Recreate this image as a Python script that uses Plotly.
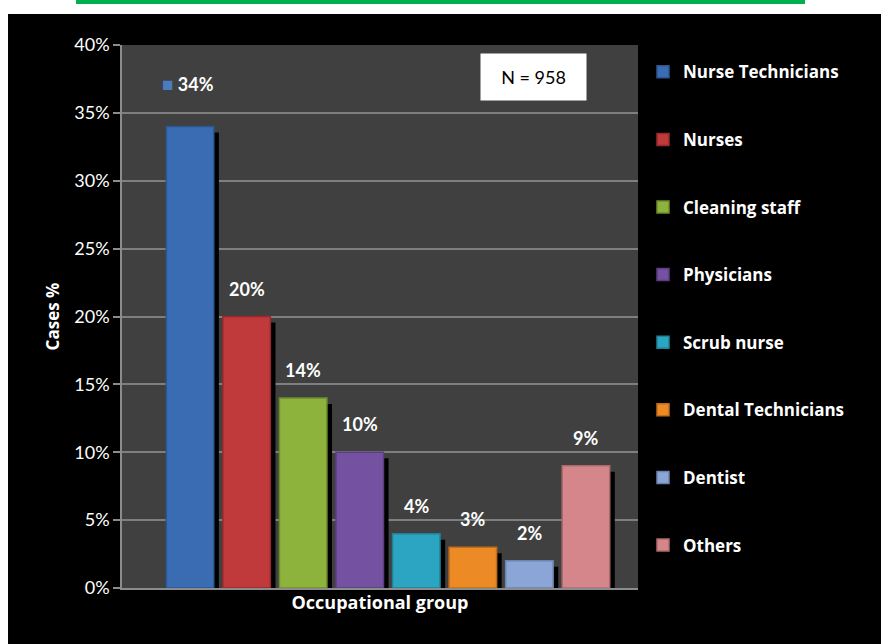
import plotly.graph_objects as go

categories = ["Nurse Technicians", "Nurses", "Cleaning staff", "Physicians",
              "Scrub nurse", "Dental Technicians", "Dentist", "Others"]
values = [34, 20, 14, 10, 4, 3, 2, 9]
labels = ["34%", "20%", "14%", "10%", "4%", "3%", "2%", "9%"]
colors = ["#3a6cb4", "#c0393b", "#8db33d", "#7451a1",
          "#2ba5c1", "#ec8a25", "#8aa5d6", "#d5868a"]
edge_colors = ["#2d568f", "#962b2d", "#6d8c2e", "#5a3e7e",
               "#1f8299", "#c06d1a", "#6c84ad", "#ad6a6d"]
y_ticks = [0, 5, 10, 15, 20, 25, 30, 35, 40]
y_ticktext = ["0%", "5%", "10%", "15%", "20%", "25%", "30%", "35%", "40%"]
n_label = "N = 958"

FONT = "Lato"
FONT2 = "Open Sans"
positions = list(range(len(categories)))
bar_w = 0.84

fig = go.Figure()

# shadows
fig.add_trace(go.Bar(
    x=[p + 0.09 for p in positions], y=[v - 0.44 for v in values],
    width=bar_w, marker=dict(color="#000000", line=dict(width=0)),
    showlegend=False, hoverinfo="skip"))

for i, (cat, val, col, ec) in enumerate(zip(categories, values, colors, edge_colors)):
    fig.add_trace(go.Bar(
        x=[positions[i]], y=[val], name=cat, width=bar_w,
        legendgroup=cat,
        marker=dict(color=col, line=dict(color=ec, width=1.5))))

annotations = []
for i, (val, lab) in enumerate(zip(values, labels)):
    if i == 0:
        annotations.append(dict(
            x=positions[i], y=val, xref="x", yref="y", yshift=43, xshift=-2,
            text="<span style='font-size:19px;color:#4a7cc0'>■</span> " + lab,
            showarrow=False, font=dict(family=FONT, size=18, color="white", weight="bold")))
    else:
        annotations.append(dict(
            x=positions[i], y=val, xref="x", yref="y", yshift=28,
            text=lab, showarrow=False,
            font=dict(family=FONT, size=18, color="white", weight="bold")))

annotations.append(dict(
    x=0.7975, y=0.941, xref="paper", yref="paper", xanchor="center", yanchor="middle",
    text=n_label, showarrow=False,
    bgcolor="white", width=97, height=38, borderpad=4,
    font=dict(family=FONT, size=18, color="black")))

shapes = [
    dict(type="rect", xref="paper", yref="paper", x0=-0.3, x1=1.5,
         y0=1.0571, y1=1.2, fillcolor="white", line=dict(width=0), layer="above"),
    dict(type="rect", xref="paper", yref="paper", x0=-0.3, x1=-0.2209,
         y0=-0.2, y1=1.2, fillcolor="white", line=dict(width=0), layer="above"),
    dict(type="rect", xref="paper", yref="paper", x0=-0.0891, x1=1.3236,
         y0=1.0755, y1=1.0840, fillcolor="#00b050", line=dict(width=0), layer="above"),
]

fig.update_layout(
    width=881, height=644,
    margin=dict(l=122, r=243, t=45, b=56),
    paper_bgcolor="black", plot_bgcolor="#404040",
    barmode="overlay",
    font=dict(family=FONT, color="white"),
    showlegend=True,
    legend=dict(x=1.0097, xanchor="left", y=0.983, yanchor="top",
                bgcolor="rgba(0,0,0,0)", tracegroupgap=42.5,
                font=dict(family=FONT2, size=17, color="white", weight="bold")),
    xaxis=dict(range=[-1.2035, 7.92], showticklabels=False, ticks="",
               showgrid=False, zeroline=False, showline=True,
               linecolor="#8c8c8c", linewidth=1.5,
               title=dict(text="Occupational group", standoff=8,
                          font=dict(family=FONT2, size=18, color="white", weight="bold"))),
    yaxis=dict(range=[0, 40], tickvals=y_ticks, ticktext=y_ticktext,
               ticks="outside", ticklen=7, tickcolor="#8c8c8c", tickwidth=1.5,
               showline=True, linecolor="#8c8c8c", linewidth=1.5,
               showgrid=True, gridcolor="#7f7f7f", gridwidth=1.5, zeroline=False,
               tickfont=dict(family=FONT, size=18, color="white"),
               title=dict(text="Cases %", standoff=10,
                          font=dict(family=FONT2, size=17, color="white", weight="bold"))),
    annotations=annotations, shapes=shapes,
)

fig.write_html("out.html")
